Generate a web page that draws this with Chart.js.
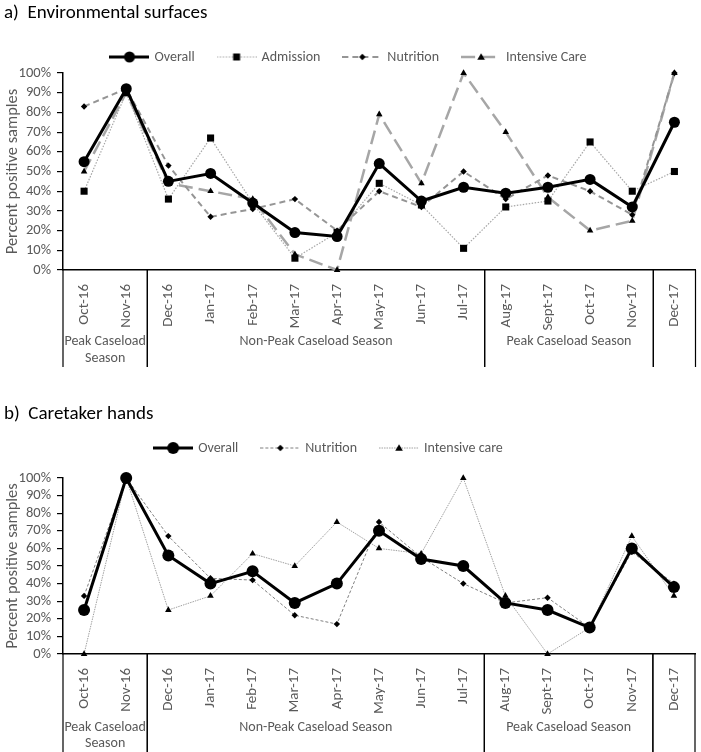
<!DOCTYPE html>
<html>
<head>
<meta charset="utf-8">
<script src="https://cdn.jsdelivr.net/npm/chart.js@4.4.1/dist/chart.umd.min.js"></script>
<style>
	body { margin: 0; background: #fff; width: 701px; height: 752px; overflow: hidden; }
	.wrap { position: absolute; left: 0; width: 701px; }
	#wrapA { top: 0; height: 385px; }
	#wrapB { top: 385px; height: 367px; }
</style>
</head>
<body>
<div class="wrap" id="wrapA"><canvas id="chartA"></canvas></div>
<div class="wrap" id="wrapB"><canvas id="chartB"></canvas></div>
<script>
var months = ["Oct-16", "Nov-16", "Dec-16", "Jan-17", "Feb-17", "Mar-17", "Apr-17", "May-17", "Jun-17", "Jul-17", "Aug-17", "Sept-17", "Oct-17", "Nov-17", "Dec-17"];

// season boxes under the axis: first and last month index of each
var seasonNames = [["Peak Caseload", "Season"], ["Non-Peak Caseload Season"], ["Peak Caseload Season"], []];
var seasonFrom = [0, 2, 10, 14];
var seasonTo = [1, 9, 13, 14];

var yTicks = [0, 10, 20, 30, 40, 50, 60, 70, 80, 90, 100];

// a) environmental surfaces (% positive)
var envOverall   = [55, 92, 45, 49, 34, 19, 17, 54, 35, 42, 39, 42, 46, 32, 75];
var envAdmission = [40, 90, 36, 67, 34, 6, 19, 44, 33, 11, 32, 35, 65, 40, 50];
var envNutrition = [83, 92, 53, 27, 31, 36, 20, 40, 32, 50, 36, 48, 40, 28, 100];
var envIntensive = [50, 90, 44, 40, 36, 8, 0, 79, 44, 100, 70, 37, 20, 25, 100];

// b) caretaker hands (% positive)
var handOverall   = [25, 100, 56, 40, 47, 29, 40, 70, 54, 50, 29, 25, 15, 60, 38];
var handNutrition = [33, 100, 67, 43, 42, 22, 17, 75, 55, 40, 29, 32, 15, 58, 40];
var handIntensive = [0, 100, 25, 33, 57, 50, 75, 60, 57, 100, 33, 0, 15, 67, 33];

var FONT = "Carlito, Lato, 'Open Sans', sans-serif";
var GREY_TEXT = "#595959";

/**
 * small picture of a line with its marker, used as legend symbol
 */
function legendIcon(color, width, dash, shape, r) {
	var c = document.createElement("canvas");
	c.width = 40; c.height = 14;
	var g = c.getContext("2d");
	g.strokeStyle = color;
	g.lineWidth = width;
	g.setLineDash(dash);
	g.beginPath(); g.moveTo(0, 7); g.lineTo(40, 7); g.stroke();
	g.setLineDash([]);
	g.fillStyle = "#000";
	g.beginPath();
	if (shape == "circle") {
		g.arc(20, 7, r, 0, Math.PI * 2);
	} else if (shape == "rect") {
		g.rect(20 - r, 7 - r, r * 2, r * 2);
	} else if (shape == "rectRot") {
		g.moveTo(20, 7 - r); g.lineTo(20 + r, 7); g.lineTo(20, 7 + r); g.lineTo(20 - r, 7);
	} else {
		g.moveTo(20, 7 - r); g.lineTo(20 + r, 7 + r * 0.7); g.lineTo(20 - r, 7 + r * 0.7);
	}
	g.closePath();
	g.fill();
	return c;
}

// title + legend row drawn above the plot
var headerPlugin = {
	id : "header",
	afterDraw : function(chart, args, opts) {
		var ctx = chart.ctx;
		ctx.save();
		ctx.textBaseline = "middle";
		ctx.textAlign = "left";
		ctx.fillStyle = "#000";
		ctx.font = "19px " + FONT;
		ctx.fillText(opts.title, 4, opts.titleY);

		ctx.font = "14px " + FONT;
		var sets = chart.data.datasets;
		var widths = sets.map(function(ds) { return 45 + ctx.measureText(ds.label).width; });
		var total = widths.reduce(function(a, b) { return a + b; }, 0) + 22 * (sets.length - 1);
		var x = opts.legendX - total / 2;
		for (var i = 0; i < sets.length; i++) {
			ctx.drawImage(sets[i].legendIcon, x, opts.legendY - 7);
			ctx.fillStyle = GREY_TEXT;
			ctx.fillText(sets[i].label, x + 45, opts.legendY);
			x += widths[i] + 22;
		}
		ctx.restore();
	}
};

var seasonPlugin = {
	id : "seasons",
	afterDraw : function(chart, args, opts) {
		var ctx = chart.ctx;
		var x = chart.scales.x;
		var top = chart.chartArea.bottom;
		var half = (x.getPixelForValue(1) - x.getPixelForValue(0)) / 2;
		ctx.save();
		ctx.strokeStyle = "#000";
		ctx.lineWidth = 1.2;
		ctx.font = "14px " + FONT;
		ctx.fillStyle = GREY_TEXT;
		ctx.textAlign = "center";
		ctx.textBaseline = "middle";
		for (var i = 0; i < seasonFrom.length; i++) {
			var l = x.getPixelForValue(seasonFrom[i]) - half;
			var r = x.getPixelForValue(seasonTo[i]) + half;
			ctx.beginPath();
			ctx.moveTo(l, top); ctx.lineTo(l, opts.bottom);
			ctx.moveTo(r, top); ctx.lineTo(r, opts.bottom);
			ctx.stroke();
			for (var j = 0; j < seasonNames[i].length; j++) {
				ctx.fillText(seasonNames[i][j], (l + r) / 2, opts.textY + j * opts.lineGap);
			}
		}
		ctx.restore();
	}
};

function makeOptions(top, xHeight, header, season) {
	return {
		responsive : true,
		maintainAspectRatio : false,
		animation : false,
		layout : { padding : { left : 0, right : 3, top : top, bottom : 0 } },
		plugins : {
			title : { display : false },
			legend : { display : false },
			tooltip : { enabled : false },
			header : header,
			seasons : season
		},
		scales : {
			x : {
				offset : true,
				grid : { display : false },
				border : { display : true, color : "#000", width : 1.5 },
				ticks : { minRotation : 90, maxRotation : 90, autoSkip : false, color : GREY_TEXT, font : { family : FONT, size : 15 }, padding : 6 },
				afterFit : function(s) { s.height = xHeight; }
			},
			y : {
				min : 0,
				max : 100,
				afterBuildTicks : function(s) { s.ticks = yTicks.map(function(v) { return { value : v }; }); },
				grid : { display : true, drawOnChartArea : false, drawTicks : true, tickLength : 6, color : "#000", lineWidth : 1.2 },
				border : { display : true, color : "#000", width : 1.5 },
				ticks : { autoSkip : false, color : GREY_TEXT, font : { family : FONT, size : 14.5 }, padding : 6, callback : function(v) { return v + "%"; } },
				title : { display : true, text : "Percent positive samples", color : GREY_TEXT, font : { family : FONT, size : 16.5 }, padding : { top : 3, bottom : 0 } },
				afterFit : function(s) { s.width = 63; }
			}
		}
	};
}

var chartA = new Chart(document.getElementById("chartA"), {
	type : "line",
	data : {
		labels : months,
		datasets : [
			{ label : "Overall", data : envOverall, borderColor : "#000", borderWidth : 3, pointStyle : "circle", pointRadius : 5.5, pointBackgroundColor : "#000", pointBorderWidth : 0, clip : false, legendIcon : legendIcon("#000", 3, [], "circle", 5.5) },
			{ label : "Admission", data : envAdmission, borderColor : "#a6a6a6", borderWidth : 1.2, borderDash : [1.5, 1.5], pointStyle : "rect", pointRadius : 5, pointBackgroundColor : "#000", pointBorderWidth : 0, clip : false, legendIcon : legendIcon("#a6a6a6", 1.2, [1.5, 1.5], "rect", 3.5) },
			{ label : "Nutrition", data : envNutrition, borderColor : "#959595", borderWidth : 2, borderDash : [6, 4], pointStyle : "rectRot", pointRadius : 3.2, pointBackgroundColor : "#000", pointBorderWidth : 0, clip : false, legendIcon : legendIcon("#959595", 2, [6, 4], "rectRot", 3.2) },
			{ label : "Intensive Care", data : envIntensive, borderColor : "#a6a6a6", borderWidth : 2.5, borderDash : [14, 6], pointStyle : "triangle", pointRadius : 3.8, pointBackgroundColor : "#000", pointBorderWidth : 0, clip : false, legendIcon : legendIcon("#a6a6a6", 2.5, [14, 6], "triangle", 3.8) }
		]
	},
	options : makeOptions(73, 115, { title : "a)  Environmental surfaces", titleY : 13, legendX : 348, legendY : 57 }, { bottom : 367, textY : 341, lineGap : 17 }),
	plugins : [headerPlugin, seasonPlugin]
});

var chartB = new Chart(document.getElementById("chartB"), {
	type : "line",
	data : {
		labels : months,
		datasets : [
			{ label : "Overall", data : handOverall, borderColor : "#000", borderWidth : 3, pointStyle : "circle", pointRadius : 6, pointBackgroundColor : "#000", pointBorderWidth : 0, clip : false, legendIcon : legendIcon("#000", 3, [], "circle", 6) },
			{ label : "Nutrition", data : handNutrition, borderColor : "#7f7f7f", borderWidth : 1, borderDash : [3, 2], pointStyle : "rectRot", pointRadius : 3.2, pointBackgroundColor : "#000", pointBorderWidth : 0, clip : false, legendIcon : legendIcon("#7f7f7f", 1, [3, 2], "rectRot", 3.2) },
			{ label : "Intensive care", data : handIntensive, borderColor : "#a0a0a0", borderWidth : 1, borderDash : [1.5, 1], pointStyle : "triangle", pointRadius : 3.8, pointBackgroundColor : "#000", pointBorderWidth : 0, clip : false, legendIcon : legendIcon("#a0a0a0", 1, [1.5, 1], "triangle", 3.8) }
		]
	},
	options : makeOptions(93, 98, { title : "b)  Caretaker hands", titleY : 29, legendX : 328, legendY : 63 }, { bottom : 367, textY : 342, lineGap : 16 }),
	plugins : [headerPlugin, seasonPlugin]
});
</script>
</body>
</html>
